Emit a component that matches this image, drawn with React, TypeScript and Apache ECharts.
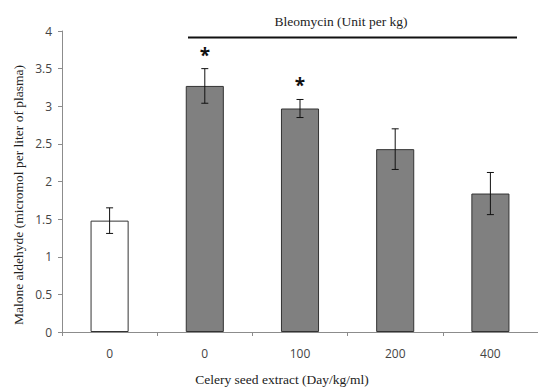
import React, { useEffect, useRef } from "react";
import * as echarts from "echarts";

const categories = ["0", "0", "100", "200", "400"];
const means = [1.48, 3.27, 2.97, 2.43, 1.84];
const errors = [0.17, 0.23, 0.12, 0.27, 0.28];
const significant = [false, true, true, false, false];
const barColors = ["#ffffff", "#808080", "#808080", "#808080", "#808080"];
const yTicks = { min: 0, max: 4, interval: 0.5 };

const serif = "'Liberation Serif', 'DejaVu Serif', serif";
const sans = "'Open Sans', 'Noto Sans', sans-serif";

export default function App() {
  const ref = useRef<HTMLDivElement>(null);
  useEffect(() => {
    if (!ref.current) return;
    const chart = echarts.init(ref.current, null, { renderer: "svg" });
    const errData = means.map((m, i) => [i, m, errors[i], significant[i] ? 1 : 0]);
    chart.setOption({
      animation: false,
      backgroundColor: "#ffffff",
      grid: { left: 62, right: -7, top: 31, bottom: 58 },
      xAxis: {
        type: "category",
        data: categories,
        boundaryGap: true,
        axisLine: { lineStyle: { color: "#8c8c8c", width: 1 } },
        axisTick: { show: true, length: 4, lineStyle: { color: "#8c8c8c" } },
        axisLabel: { color: "#444", fontFamily: sans, fontSize: 12, margin: 15 },
      },
      yAxis: {
        type: "value",
        min: yTicks.min,
        max: yTicks.max,
        interval: yTicks.interval,
        splitLine: { show: false },
        axisLine: { show: true, lineStyle: { color: "#8c8c8c", width: 1 } },
        axisTick: { show: true, length: 4, lineStyle: { color: "#8c8c8c" } },
        axisLabel: {
          color: "#444",
          fontFamily: sans,
          fontSize: 12,
          margin: 10,
          formatter: (v: number) => String(v),
        },
      },
      graphic: [
        {
          type: "text",
          x: 18,
          y: 195,
          rotation: Math.PI / 2,
          style: {
            text: "Malone aldehyde (micromol per liter of plasma)",
            fontFamily: serif,
            fontSize: 13.5,
            fill: "#222",
            align: "center",
            verticalAlign: "middle",
          },
        },
        {
          type: "text",
          x: 282,
          y: 379,
          style: {
            text: "Celery seed extract (Day/kg/ml)",
            fontFamily: serif,
            fontSize: 13.5,
            fill: "#222",
            align: "center",
            verticalAlign: "middle",
          },
        },
        {
          type: "text",
          x: 341,
          y: 21,
          style: {
            text: "Bleomycin (Unit per kg)",
            fontFamily: serif,
            fontSize: 13.5,
            fill: "#222",
            align: "center",
            verticalAlign: "middle",
          },
        },
        {
          type: "line",
          shape: { x1: 188, y1: 37.5, x2: 517, y2: 37.5 },
          style: { stroke: "#111", lineWidth: 2 },
        },
      ],
      series: [
        {
          type: "bar",
          barWidth: "40%",
          data: means.map((v, i) => ({
            value: v,
            itemStyle: { color: barColors[i], borderColor: "#333", borderWidth: 1 },
          })),
        },
        {
          type: "custom",
          data: errData,
          z: 10,
          renderItem: (params: any, api: any) => {
            const x = api.value(0);
            const m = api.value(1);
            const e = api.value(2);
            const sig = api.value(3);
            const top = api.coord([x, m + e]);
            const bot = api.coord([x, m - e]);
            const hw = 3.5;
            const st = { stroke: "#111", lineWidth: 1 };
            const children: any[] = [
              { type: "line", shape: { x1: top[0], y1: top[1], x2: bot[0], y2: bot[1] }, style: st },
              { type: "line", shape: { x1: top[0] - hw, y1: top[1], x2: top[0] + hw, y2: top[1] }, style: st },
              { type: "line", shape: { x1: bot[0] - hw, y1: bot[1], x2: bot[0] + hw, y2: bot[1] }, style: st },
            ];
            if (sig) {
              children.push({
                type: "text",
                x: top[0],
                y: top[1] - 14,
                style: {
                  text: "*",
                  fontFamily: sans,
                  fontSize: 19,
                  fontWeight: "bold",
                  fill: "#111",
                  align: "center",
                  verticalAlign: "middle",
                },
              });
            }
            return { type: "group", children };
          },
        },
      ],
    });
    return () => chart.dispose();
  }, []);
  return (
    <div
      ref={ref}
      style={{ position: "fixed", left: 0, top: 0, width: 538, height: 390 }}
    />
  );
}
